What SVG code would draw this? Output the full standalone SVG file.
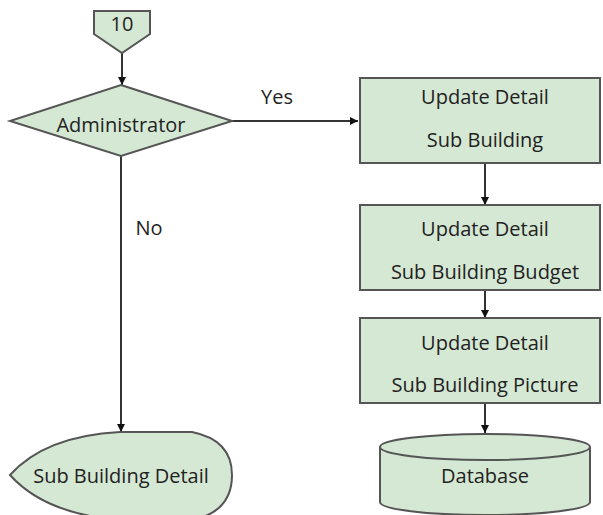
<svg xmlns="http://www.w3.org/2000/svg" width="603" height="515" viewBox="0 0 603 515">
<style>
.shape{fill:#d5e8d4;stroke:#555;stroke-width:2}
.t{font-family:"Open Sans","Noto Sans",sans-serif;font-size:20px;fill:#222;text-anchor:middle}
.c{stroke:#333;stroke-width:2;fill:none;marker-end:url(#ah)}
</style>
<defs>
<marker id="ah" viewBox="0 0 10 10" refX="10" refY="5" markerWidth="8" markerHeight="8" markerUnits="userSpaceOnUse" orient="auto">
<path d="M0,0 L10,5 L0,10 z" fill="#111"/>
</marker>
</defs>
<rect width="603" height="515" fill="#fff"/>
<g id="connectors">
<line class="c" x1="122" y1="53" x2="122" y2="85"/>
<line class="c" x1="232" y1="121" x2="358" y2="121"/>
<line class="c" x1="121" y1="155" x2="121" y2="432"/>
<line class="c" x1="485" y1="163" x2="485" y2="205"/>
<line class="c" x1="485" y1="290" x2="485" y2="318"/>
<line class="c" x1="485" y1="403" x2="485" y2="433"/>
<text class="t" x="277" y="104">Yes</text>
<text class="t" x="149" y="235">No</text>
</g>
<g id="n10">
<path class="shape" d="M94,11 H150 V34 L122,53 L94,34 Z"/>
<text class="t" x="122" y="31">10</text>
</g>
<g id="admin">
<path class="shape" d="M121,85 L232,121 L121,156 L10,121 Z"/>
<text class="t" x="121" y="132">Administrator</text>
</g>
<g id="b1">
<rect class="shape" x="360" y="78" width="240" height="85"/>
<text class="t" x="485" y="104">Update Detail</text>
<text class="t" x="485" y="147">Sub Building</text>
</g>
<g id="b2">
<rect class="shape" x="360" y="205" width="240" height="85"/>
<text class="t" x="485" y="236">Update Detail</text>
<text class="t" x="485" y="279">Sub Building Budget</text>
</g>
<g id="b3">
<rect class="shape" x="360" y="318" width="240" height="85"/>
<text class="t" x="485" y="350">Update Detail</text>
<text class="t" x="485" y="392">Sub Building Picture</text>
</g>
<g id="db">
<path class="shape" d="M380,447 V502 A105,13 0 0 0 590,502 V447 A105,13 0 0 0 380,447 Z"/>
<path class="shape" d="M380,447 A105,13 0 0 0 590,447" fill="none"/>
<text class="t" x="485" y="483">Database</text>
</g>
<g id="display">
<path class="shape" d="M10,475 Q45,436 120,432 H192 Q232,440 232,475 Q232,512 192,520 H120 Q45,514 10,475 Z"/>
<text class="t" x="121" y="483">Sub Building Detail</text>
</g>
</svg>
